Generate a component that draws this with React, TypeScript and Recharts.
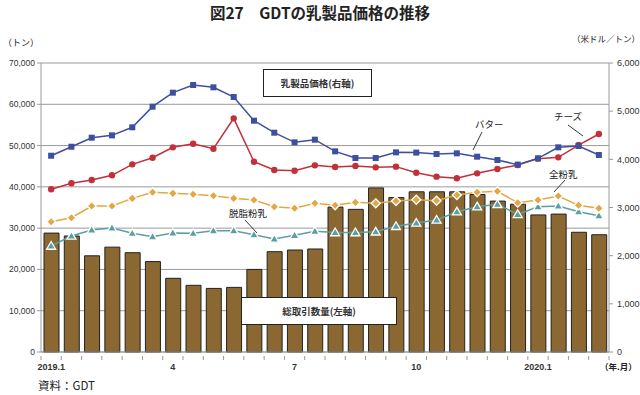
import { Bar, CartesianGrid, ComposedChart, Line, XAxis, YAxis } from "recharts";

const auctions = [
  "2019.1-1", "2019.1-2", "2019.2-1", "2019.2-2", "2019.3-1", "2019.3-2",
  "2019.4-1", "2019.4-2", "2019.5-1", "2019.5-2", "2019.6-1", "2019.6-2",
  "2019.7-1", "2019.7-2", "2019.8-1", "2019.8-2", "2019.9-1", "2019.9-2",
  "2019.10-1", "2019.10-2", "2019.11-1", "2019.11-2", "2019.12-1", "2019.12-2",
  "2020.1-1", "2020.1-2", "2020.2-1", "2020.2-2",
];

const tickLabels: Record<string, string> = {
  "2019.1-1": "2019.1",
  "2019.4-1": "4",
  "2019.7-1": "7",
  "2019.10-1": "10",
  "2020.1-1": "2020.1",
};

// 総取引数量 (トン)
const volume = [
  28800, 28100, 23300, 25400, 24050, 21900, 17850, 16150, 15400, 15650, 20000, 24300, 24700, 24950,
  35100, 34550, 39750, 37400, 38800, 38800, 38800, 38150, 36550, 35800, 33200, 33400, 29000, 28400,
];

// 価格 (米ドル/トン)
const butter = [
  4075, 4262, 4449, 4498, 4665, 5093, 5384, 5543, 5495, 5294, 4802, 4553, 4353, 4408,
  4166, 4027, 4027, 4145, 4140, 4110, 4125, 4055, 3986, 3890, 4021, 4249, 4277, 4090,
];
const cheese = [
  3378, 3502, 3571, 3668, 3896, 4034, 4249, 4324, 4221, 4851, 3951, 3778, 3764, 3875,
  3841, 3861, 3834, 3848, 3723, 3640, 3606, 3709, 3799, 3882, 4014, 4041, 4297, 4526,
];
const wmp = [
  2705, 2788, 3031, 3031, 3190, 3315, 3294, 3274, 3245, 3190, 3155, 3017, 2983, 3087,
  3045, 3107, 3087, 3135, 3160, 3141, 3259, 3315, 3336, 3100, 3155, 3239, 3045, 2983,
];
const smp = [
  2200, 2408, 2533, 2574, 2464, 2394, 2470, 2464, 2519, 2519, 2436, 2346, 2422, 2508,
  2480, 2480, 2495, 2610, 2678, 2740, 2913, 3017, 3066, 2858, 3017, 3031, 2913, 2830,
];

const leftTicks = [0, 10000, 20000, 30000, 40000, 50000, 60000, 70000];
const rightTicks = [0, 1000, 2000, 3000, 4000, 5000, 6000];

const data = auctions.map((a, i) => ({
  auction: a,
  volume: volume[i],
  butter: butter[i],
  cheese: cheese[i],
  wmp: wmp[i],
  smp: smp[i],
}));

const NUM_FONT = "'Liberation Sans', Arial, sans-serif";
const JP_FONT = "'Noto Sans CJK JP', sans-serif";
const AXIS = "#9a9a9a";

const C_BAR = "#8b6832";
const C_BUTTER = "#3d4f9f";
const C_CHEESE = "#c2303a";
const C_WMP = "#e3a845";
const C_SMP = "#5a9fa2";

const SquareDot = (p: any) => (
  <rect key={p.key} x={p.cx - 3} y={p.cy - 3} width={6} height={6} fill={C_BUTTER} />
);
const CircleDot = (p: any) => <circle key={p.key} cx={p.cx} cy={p.cy} r={3.2} fill={C_CHEESE} />;
const DiamondDot = (p: any) => (
  <path
    key={p.key}
    d={`M${p.cx},${p.cy - 4.5}L${p.cx + 4.5},${p.cy}L${p.cx},${p.cy + 4.5}L${p.cx - 4.5},${p.cy}Z`}
    fill={C_WMP}
    stroke="#fff"
    strokeWidth={1.3}
  />
);
const TriangleDot = (p: any) => (
  <path
    key={p.key}
    d={`M${p.cx},${p.cy - 4.5}L${p.cx + 4.5},${p.cy + 3.2}L${p.cx - 4.5},${p.cy + 3.2}Z`}
    fill={C_SMP}
    stroke="#fff"
    strokeWidth={1.3}
  />
);

const XTick = (props: any) => {
  const { x, y, payload, index } = props;
  const half = payload.offset ?? 10;
  const label = tickLabels[payload.value] ?? "";
  const isLast = index === auctions.length - 1;
  return (
    <g>
      <line x1={x - half} x2={x - half} y1={y - 4} y2={y} stroke={AXIS} />
      {isLast && <line x1={x + half} x2={x + half} y1={y - 4} y2={y} stroke={AXIS} />}
      {label && (
        <text x={x} y={y + 10} textAnchor="middle" fontSize={9} fontWeight="bold" fill="#333" fontFamily={NUM_FONT}>
          {label}
        </text>
      )}
    </g>
  );
};

const boxStyle: React.CSSProperties = {
  position: "absolute",
  background: "#fff",
  border: "1.3px solid #222",
  boxSizing: "border-box",
  display: "flex",
  alignItems: "center",
  justifyContent: "center",
  fontFamily: JP_FONT,
  fontSize: 9.5,
  fontWeight: 700,
  color: "#333",
};

const textStyle: React.CSSProperties = {
  position: "absolute",
  fontFamily: JP_FONT,
  fontSize: 10,
  color: "#222",
  whiteSpace: "nowrap",
  lineHeight: 1,
};

export default function App() {
  return (
    <div style={{ position: "absolute", left: 0, top: 0, width: 640, height: 395, background: "#fff" }}>
      <ComposedChart
        width={640}
        height={395}
        data={data}
        margin={{ top: 63, right: 0, bottom: 23, left: 0 }}
        barCategoryGap={0}
      >
        <CartesianGrid vertical={false} stroke={AXIS} strokeWidth={1} yAxisId="left" />
        <XAxis
          dataKey="auction"
          height={20}
          interval={0}
          tickLine={false}
          stroke={AXIS}
          tick={<XTick />}
        />
        <YAxis
          yAxisId="left"
          width={41}
          domain={[0, 70000]}
          ticks={leftTicks}
          tickFormatter={(v: number) => v.toLocaleString("en-US")}
          stroke={AXIS}
          tickSize={4}
          tickMargin={2}
          tick={{ fontSize: 8.5, fill: "#333", fontFamily: NUM_FONT }}
        />
        <YAxis
          yAxisId="right"
          orientation="right"
          width={31}
          domain={[0, 6000]}
          ticks={rightTicks}
          tickFormatter={(v: number) => v.toLocaleString("en-US")}
          stroke={AXIS}
          tickSize={4}
          tickMargin={4}
          tick={{ fontSize: 9, fill: "#333", fontFamily: NUM_FONT }}
        />
        <Bar
          yAxisId="left"
          dataKey="volume"
          barSize={15}
          fill={C_BAR}
          stroke="#222"
          strokeWidth={1}
          isAnimationActive={false}
        />
        <Line yAxisId="right" dataKey="smp" stroke={C_SMP} strokeWidth={1.5} dot={TriangleDot} isAnimationActive={false} />
        <Line yAxisId="right" dataKey="wmp" stroke={C_WMP} strokeWidth={1.5} dot={DiamondDot} isAnimationActive={false} />
        <Line yAxisId="right" dataKey="cheese" stroke={C_CHEESE} strokeWidth={1.5} dot={CircleDot} isAnimationActive={false} />
        <Line yAxisId="right" dataKey="butter" stroke={C_BUTTER} strokeWidth={1.5} dot={SquareDot} isAnimationActive={false} />
      </ComposedChart>

      <div
        style={{
          position: "absolute",
          left: 0,
          top: 1,
          width: 640,
          textAlign: "center",
          fontFamily: JP_FONT,
          fontSize: 15.5,
          fontWeight: 700,
          color: "#222",
          lineHeight: "22px",
        }}
      >
        図27　GDTの乳製品価格の推移
      </div>
      <div style={{ ...textStyle, left: 3, top: 38, fontSize: 9 }}>（トン）</div>
      <div style={{ ...textStyle, left: 572, top: 34, fontSize: 8.5 }}>（米ドル／トン）</div>
      <div style={{ ...textStyle, left: 600, top: 362, fontSize: 8.5, fontWeight: 700 }}>（年.月）</div>
      <div style={{ ...textStyle, left: 38, top: 380, fontSize: 11.5 }}>資料：GDT</div>

      <div style={{ ...boxStyle, left: 263, top: 69, width: 109, height: 28 }}>乳製品価格(右軸)</div>
      <div style={{ ...boxStyle, left: 241, top: 297, width: 156, height: 28 }}>総取引数量(左軸)</div>

      <div style={{ ...textStyle, left: 475, top: 120, fontSize: 9.5 }}>バター</div>
      <div style={{ ...textStyle, left: 554, top: 112, fontSize: 9.5 }}>チーズ</div>
      <div style={{ ...textStyle, left: 549, top: 170, fontSize: 9.5 }}>全粉乳</div>
      <div style={{ ...textStyle, left: 229, top: 209, fontSize: 9.5 }}>脱脂粉乳</div>

      <svg width={640} height={395} style={{ position: "absolute", left: 0, top: 0, pointerEvents: "none" }}>
        <g stroke="#222" strokeWidth={0.9}>
          <line x1={482} y1={132} x2={473} y2={150} />
          <line x1={568} y1={125} x2={583} y2={136} />
          <line x1={565} y1={180} x2={554} y2={192} />
          <line x1={245} y1={220} x2={257} y2={233} />
        </g>
      </svg>
    </div>
  );
}
